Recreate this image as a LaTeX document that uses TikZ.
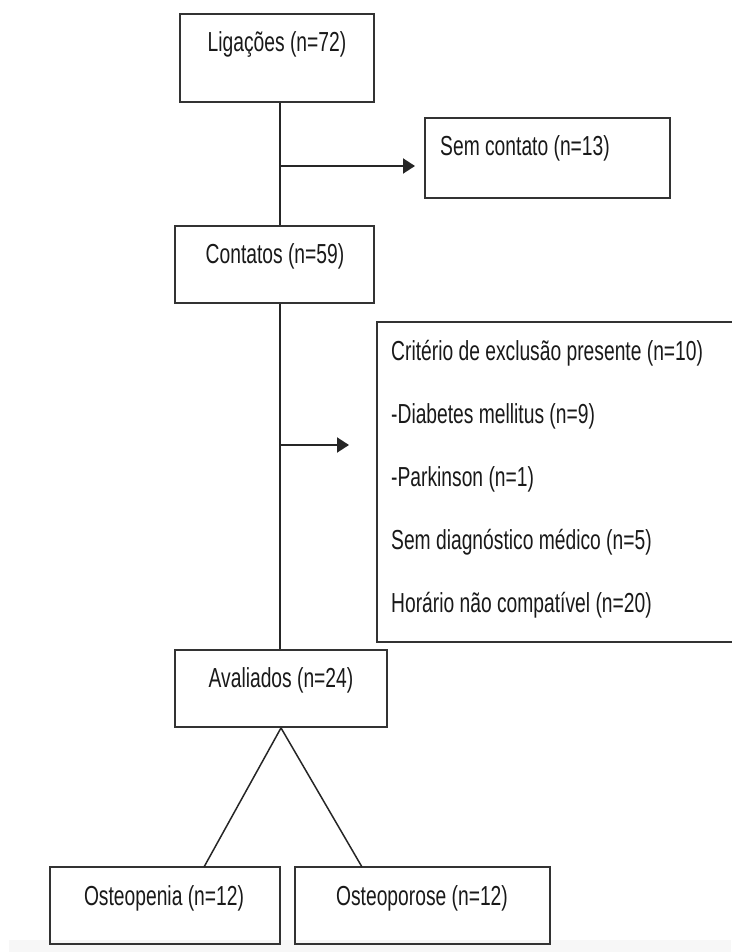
\documentclass[tikz,border=0pt]{standalone}
\usepackage{fontspec}
\setmainfont{Liberation Sans}[FakeStretch=0.70]
\usetikzlibrary{arrows.meta}
\begin{document}
\begin{tikzpicture}[x=1pt,y=-1pt,
  box/.style={draw=black!80, line width=1.8pt, rectangle, inner sep=0pt},
  txt/.style={inner sep=0pt, font=\fontsize{27.5}{32}\selectfont, text=black!90},
  conn/.style={draw=black!85, line width=1.5pt},
  arr/.style={conn, line width=2pt, -{Triangle[length=12pt,width=15pt]}}]
\useasboundingbox (0,0) rectangle (731,952);
\fill[black!3] (9,940) rectangle (731,952);
% boxes
\node[box, minimum width=194pt, minimum height=88pt] (lig) at (277,58) {};
\node[box, minimum width=245pt, minimum height=80pt] (sem) at (547.5,158) {};
\node[box, minimum width=199pt, minimum height=77pt] (cont) at (274.5,264.5) {};
\draw[black!80, line width=1.8pt] (740,322) -- (377,322) -- (377,642) -- (740,642);
\coordinate (exL) at (377,445);
\node[box, minimum width=212pt, minimum height=77pt] (aval) at (281,688.5) {};
\node[box, minimum width=230pt, minimum height=77pt] (open) at (165,905.5) {};
\node[box, minimum width=255pt, minimum height=77pt] (opor) at (422.5,905.5) {};
% texts
\node[txt, anchor=base] (tlig) at (277,52) {Ligações (n=72)};
\node[txt, anchor=base west] (tsem) at (440,156) {Sem contato (n=13)};
\node[txt, anchor=base] (tcont) at (275,263) {Contatos (n=59)};
\node[txt, anchor=base west] (te1) at (391,360) {Critério de exclusão presente (n=10)};
\node[txt, anchor=base west] (te2) at (391,423) {-Diabetes mellitus (n=9)};
\node[txt, anchor=base west] (te3) at (391,486) {-Parkinson (n=1)};
\node[txt, anchor=base west] (te4) at (391,549) {Sem diagnóstico médico (n=5)};
\node[txt, anchor=base west] (te5) at (391,612) {Horário não compatível (n=20)};
\node[txt, anchor=base] (taval) at (281,687) {Avaliados (n=24)};
\node[txt, anchor=base] (topen) at (164,905) {Osteopenia (n=12)};
\node[txt, anchor=base] (topor) at (422,905) {Osteoporose (n=12)};
% connectors
\coordinate (j1) at (280,166);
\coordinate (j2) at (280,445);
\coordinate (t1) at (415,166);
\coordinate (t2) at (349,445);
\draw[conn] (lig.south -| j1) -- (cont.north -| j1);
\draw[arr] (j1) -- (t1);
\draw[conn] (cont.south -| j2) -- (aval.north -| j2);
\draw[arr] (j2) -- (t2);
\draw[conn] (aval.south) -- (204,867);
\draw[conn] (aval.south) -- (362,867);
\end{tikzpicture}
\end{document}
